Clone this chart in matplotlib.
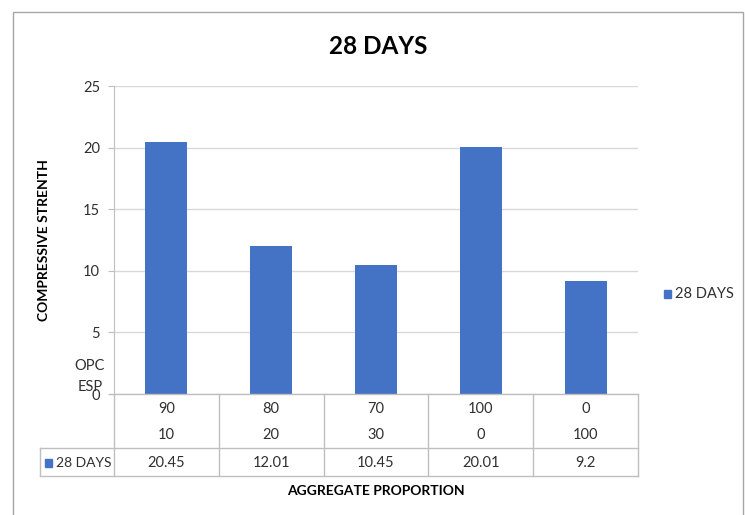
import matplotlib
matplotlib.use("Agg")
import matplotlib.pyplot as plt
from matplotlib.lines import Line2D
from matplotlib.patches import Rectangle

plt.rcParams['font.family'] = ['Lato', 'DejaVu Sans']

opc = ["90", "80", "70", "100", "0"]
esp = ["10", "20", "30", "0", "100"]
values = [20.45, 12.01, 10.45, 20.01, 9.2]
value_labels = ["20.45", "12.01", "10.45", "20.01", "9.2"]
series_name = "28 DAYS"
yticks = [0, 5, 10, 15, 20, 25]

W, H = 745, 515
fig = plt.figure(figsize=(W / 100, H / 100), dpi=100)

def fx(x):
    return x / W

def fy(y):
    return 1 - y / H

color = "#4472C4"
grid_c = "#d9d9d9"
line_c = "#bfbfbf"
txt_c = "#303030"

# outer border
fig.add_artist(Rectangle((fx(13), fy(530)), fx(743) - fx(13), fy(12) - fy(530),
                         transform=fig.transFigure, fill=False, edgecolor="#a6a6a6", lw=1))

left, right, top, bottom = 114, 638, 86, 394
ax = fig.add_axes([fx(left), fy(bottom), fx(right) - fx(left), fy(top) - fy(bottom)])
x = list(range(len(values)))
ax.bar(x, values, width=0.4, color=color, zorder=3)
ax.set_xlim(-0.5, len(values) - 0.5)
ax.set_ylim(0, 25)
ax.set_yticks(yticks)
ax.set_yticklabels([str(v) for v in yticks], fontsize=10.5, color=txt_c)
ax.set_xticks([])
ax.yaxis.grid(True, color=grid_c, lw=1, zorder=0)
for s in ["top", "right", "bottom"]:
    ax.spines[s].set_visible(False)
ax.spines["left"].set_color(line_c)
ax.tick_params(axis="y", length=4, color=line_c, pad=6)

# title
fig.text(fx(378), fy(46), "28 DAYS", fontsize=17.5, fontweight="bold", ha="center", va="center")
# y label
fig.text(fx(44), fy(240), "COMPRESSIVE STRENTH", fontsize=10, fontweight="bold",
         rotation=90, ha="center", va="center")
# x label
fig.text(fx(376), fy(491), "AGGREGATE PROPORTION", fontsize=10, fontweight="bold",
         ha="center", va="center")

# row headers
fig.text(fx(105), fy(366), "OPC", fontsize=10.5, ha="right", va="center", color=txt_c)
fig.text(fx(103), fy(387), "ESP", fontsize=10.5, ha="right", va="center", color=txt_c)

# table lines
def hline(x0, x1, y):
    fig.add_artist(Line2D([fx(x0), fx(x1)], [fy(y), fy(y)], transform=fig.transFigure,
                          color=line_c, lw=1))

def vline(x, y0, y1):
    fig.add_artist(Line2D([fx(x), fx(x)], [fy(y0), fy(y1)], transform=fig.transFigure,
                          color=line_c, lw=1))

hline(110, right, bottom)
hline(40, right, 448)
hline(40, right, 476)
n = len(values)
cw = (right - left) / n
for i in range(n + 1):
    vline(left + i * cw, bottom, 476)
vline(40, 448, 476)

for i in range(n):
    cx = left + (i + 0.5) * cw
    fig.text(fx(cx), fy(409), opc[i], fontsize=10.5, ha="center", va="center", color=txt_c)
    fig.text(fx(cx), fy(435), esp[i], fontsize=10.5, ha="center", va="center", color=txt_c)
    fig.text(fx(cx), fy(463), value_labels[i], fontsize=10.5, ha="center", va="center", color=txt_c)

# legend key in table
fig.add_artist(Rectangle((fx(45), fy(467)), fx(52) - fx(45), fy(459) - fy(467),
                         transform=fig.transFigure, color=color))
fig.text(fx(56), fy(463), series_name, fontsize=10, ha="left", va="center", color=txt_c)

# legend at right
fig.add_artist(Rectangle((fx(664), fy(298)), fx(671) - fx(664), fy(290) - fy(298),
                         transform=fig.transFigure, color=color))
fig.text(fx(675), fy(294), series_name, fontsize=10.5, ha="left", va="center", color=txt_c)

fig.savefig("out.png", dpi=100)
